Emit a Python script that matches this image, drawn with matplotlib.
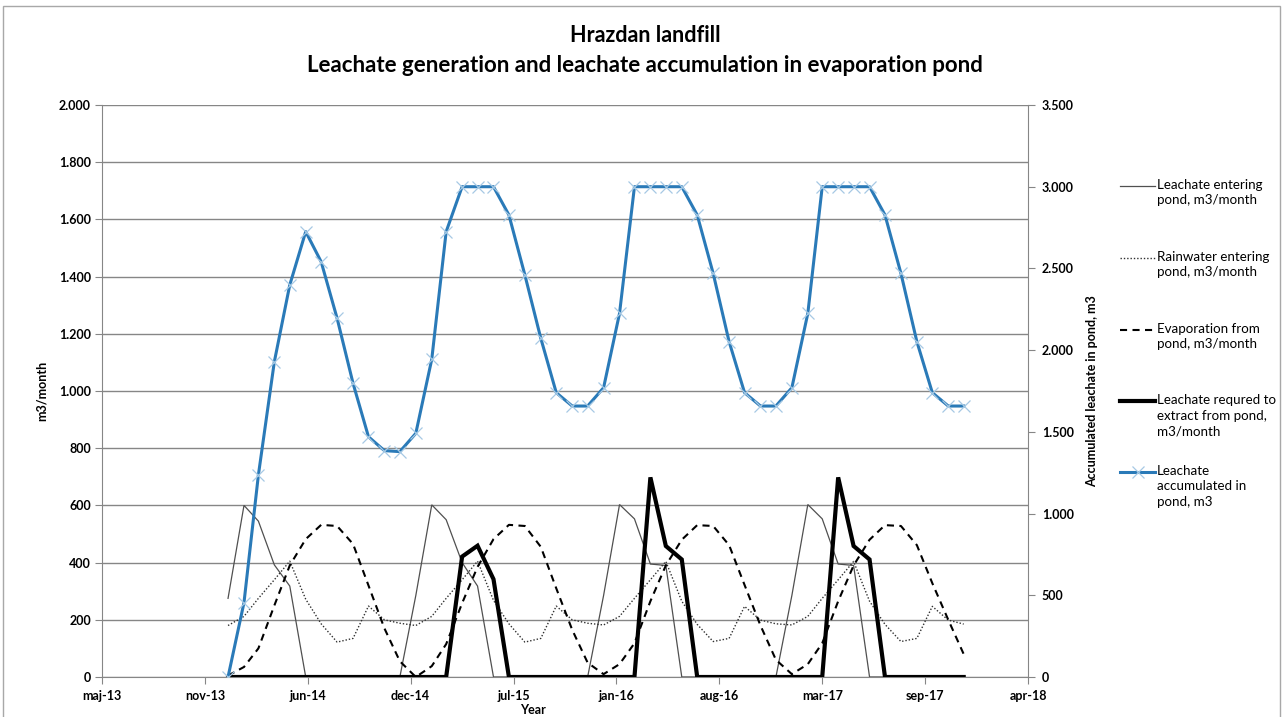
import matplotlib
matplotlib.use("Agg")
import matplotlib.pyplot as plt
from matplotlib.lines import Line2D
from matplotlib.patches import Rectangle
import pandas as pd

plt.rcParams['font.family'] = ['Lato', 'DejaVu Sans']

# ---------------- data ----------------
months = pd.date_range('2014-01-01', '2017-12-01', freq='MS')

leachate_entering = [
    275, 600, 545, 392, 318, 0, 0, 0, 0, 0, 0, 0,      # 2014
    285, 602, 550, 400, 318, 0, 0, 0, 0, 0, 0, 0,      # 2015
    285, 603, 553, 395, 390, 0, 0, 0, 0, 0, 0, 0,      # 2016
    285, 603, 553, 395, 390, 0, 0, 0, 0, 0, 0, 0,      # 2017
]
rainwater_entering = [
    180, 212, 275, 340, 405, 272, 186, 122, 135, 248, 200, 188,
    180, 212, 275, 340, 405, 268, 186, 122, 135, 248, 200, 188,
    182, 212, 275, 340, 404, 265, 184, 124, 135, 247, 199, 186,
    182, 212, 275, 340, 404, 265, 184, 124, 135, 247, 199, 185,
]
evaporation = [
    5, 35, 100, 250, 390, 482, 532, 528, 465, 320, 170, 55,
    0, 38, 115, 258, 385, 482, 532, 528, 455, 310, 165, 50,
    10, 45, 118, 265, 390, 480, 531, 528, 461, 322, 180, 60,
    10, 45, 118, 265, 390, 480, 531, 528, 461, 328, 200, 80,
]
extract_required = [
    0, 0, 0, 0, 0, 0, 0, 0, 0, 0, 0, 0,
    0, 0, 0, 421, 459, 342, 0, 0, 0, 0, 0, 0,
    0, 0, 0, 698, 458, 411, 0, 0, 0, 0, 0, 0,
    0, 0, 0, 698, 458, 411, 0, 0, 0, 0, 0, 0,
]
accumulated = [
    0, 455, 1236, 1929, 2399, 2725, 2541, 2195, 1797, 1470, 1385, 1379,
    1491, 1944, 2725, 3000, 3000, 3000, 2827, 2460, 2072, 1740, 1658, 1658,
    1770, 2225, 3000, 3000, 3000, 3000, 2827, 2470, 2052, 1740, 1658, 1658,
    1770, 2225, 3000, 3000, 3000, 3000, 2827, 2470, 2052, 1740, 1658, 1658,
]

xtick_labels = ['maj-13', 'nov-13', 'jun-14', 'dec-14', 'jul-15', 'jan-16',
                'aug-16', 'mar-17', 'sep-17', 'apr-18']
left_ticks = [0, 200, 400, 600, 800, 1000, 1200, 1400, 1600, 1800, 2000]
right_ticks = [0, 500, 1000, 1500, 2000, 2500, 3000, 3500]

legend_labels = ['Leachate entering\npond, m3/month',
                 'Rainwater entering\npond, m3/month',
                 'Evaporation from\npond, m3/month',
                 'Leachate requred to\nextract from pond,\nm3/month',
                 'Leachate\naccumulated in\npond, m3']

title1 = 'Hrazdan landfill'
title2 = 'Leachate generation and leachate accumulation in evaporation pond'

# ---------------- figure ----------------
W, H = 1287, 717
fig = plt.figure(figsize=(W / 100, H / 100), dpi=100)
fig.patch.set_facecolor('white')
ax = fig.add_axes([102 / W, 1 - 677 / H, 926 / W, 572 / H])

GRID = '#868686'
BLUE = '#2a7ab8'

styles = [
    dict(color='#505050', lw=0.9, ls='-'),
    dict(color='#303030', lw=1.0, ls=(0, (1, 1.4))),
    dict(color='black', lw=1.5, ls=(0, (3.4, 2.6))),
    dict(color='black', lw=3.0, ls='-'),
]
series = [leachate_entering, rainwater_entering, evaporation, extract_required]
for s, st in zip(series, styles):
    ax.plot(months, s, zorder=3, solid_joinstyle='miter', **st)

ax2 = ax.twinx()
ax2.plot(months, accumulated, color=BLUE, lw=2.2, marker='x', ms=8,
         mec='#a6c9e4', mew=0.9, zorder=5)

start = pd.Timestamp('2013-05-01')
xt = [start + pd.Timedelta(days=200 * k) for k in range(len(xtick_labels))]
ax.set_xlim(xt[0], xt[-1])
ax.set_xticks(xt, labels=xtick_labels, fontweight='bold', fontsize=9)

def fmt(v):
    return f"{v:,}".replace(',', '.')

ax.set_ylim(0, 2000)
ax.set_yticks(left_ticks, labels=[fmt(v) for v in left_ticks],
              fontweight='bold', fontsize=9)
ax2.set_ylim(0, 3500)
ax2.set_yticks(right_ticks, labels=[fmt(v) for v in right_ticks],
               fontweight='bold', fontsize=9)

ax.yaxis.grid(True, color=GRID, lw=1.0)
ax.xaxis.grid(False)
ax.set_axisbelow(True)

for sp in ['top', 'right']:
    ax.spines[sp].set_visible(False)
for sp in ['left', 'bottom']:
    ax.spines[sp].set_color(GRID)
for sp in ['top', 'left', 'bottom']:
    ax2.spines[sp].set_visible(False)
ax2.spines['right'].set_color(GRID)

ax.tick_params(axis='y', direction='out', length=5, color=GRID, pad=3)
ax.tick_params(axis='x', direction='out', length=5, color=GRID, pad=4)
ax2.tick_params(axis='y', direction='out', length=5, color=GRID, pad=5)

# axis labels
ax.text((42 - 102) / 926, 0.5, 'm3/month', rotation=90, ha='center',
        va='center', fontsize=9, fontweight='bold', transform=ax.transAxes)
ax.text(1 + (1092 - 1028) / 926, 0.5, 'Accumulated leachate in pond, m3',
        rotation=90, ha='center', va='center', fontsize=9, fontweight='bold',
        transform=ax.transAxes)
ax.text((533 - 102) / 926, (677 - 710) / 572, 'Year', ha='center',
        va='center', fontsize=9, fontweight='bold', transform=ax.transAxes)

# titles
fig.text(645 / W, 1 - 35 / H, title1, ha='center', va='center',
         fontsize=15.5, fontweight='bold')
fig.text(645 / W, 1 - 66 / H, title2, ha='center', va='center',
         fontsize=16, fontweight='bold')

# legend (drawn manually to mimic the Excel layout)
leg_y = [186, 258, 330, 401, 472]
handle_styles = styles + [dict(color=BLUE, lw=2.2, ls='-')]
for i, (lab, yy, st) in enumerate(zip(legend_labels, leg_y, handle_styles)):
    yf = 1 - yy / H
    fig.add_artist(Line2D([1120 / W, 1155 / W], [yf, yf],
                          transform=fig.transFigure, **st))
    if i == 4:
        fig.add_artist(Line2D([1137.5 / W], [yf], transform=fig.transFigure,
                              marker='x', ms=8, mec='#a6c9e4', mew=0.9,
                              ls='none'))
    fig.text(1157 / W, 1 - (yy - 7) / H, lab, ha='left', va='top',
             fontsize=9.6, linespacing=1.35)

# outer frame
fig.add_artist(Rectangle((3 / W, -0.01), (1280 - 3) / W, 1.01 - 6 / H,
                         transform=fig.transFigure, fill=False,
                         edgecolor='#a8a8a8', lw=1.0))

fig.savefig('out.png', dpi=100, facecolor='white')
